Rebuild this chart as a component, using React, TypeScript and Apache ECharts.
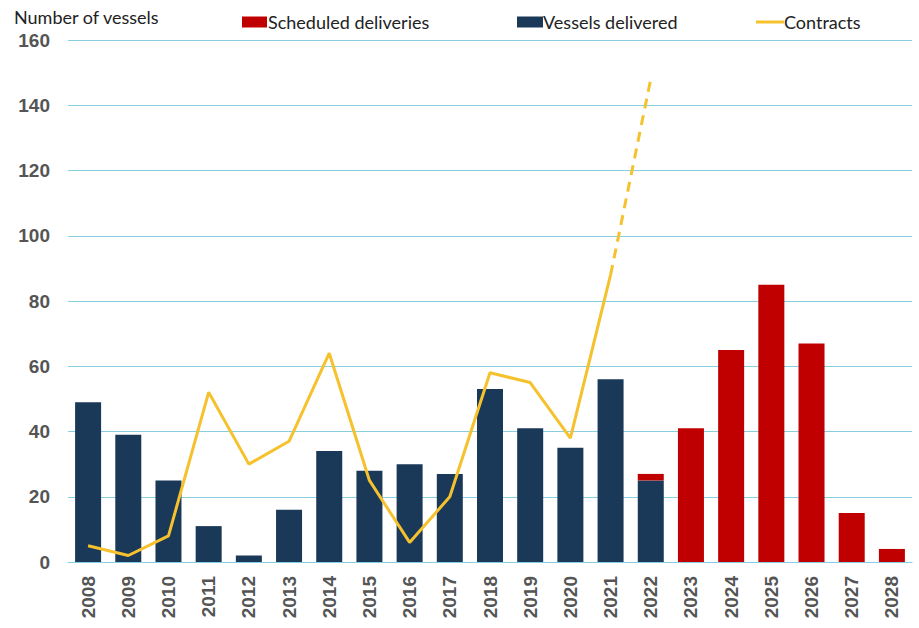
import React, { useEffect, useRef } from "react";
import * as echarts from "echarts";

const years = ["2008","2009","2010","2011","2012","2013","2014","2015","2016","2017","2018","2019","2020","2021","2022","2023","2024","2025","2026","2027","2028"];
const vesselsDelivered = [49, 39, 25, 11, 2, 16, 34, 28, 30, 27, 53, 41, 35, 56, 25, null, null, null, null, null, null];
const scheduledDeliveries = [null, null, null, null, null, null, null, null, null, null, null, null, null, null, 2, 41, 65, 85, 67, 15, 4];
const contracts = [5, 2, 8, 52, 30, 37, 64, 25, 6, 20, 58, 55, 38, 88, null, null, null, null, null, null, null];
const contractsProjected = [null, null, null, null, null, null, null, null, null, null, null, null, null, 88, 148, null, null, null, null, null, null];
const yTicks = [0, 20, 40, 60, 80, 100, 120, 140, 160];

const FONT = "Lato, 'Noto Sans', sans-serif";
const NAVY = "#1a3858";
const RED = "#c00000";
const GOLD = "#f5c12c";
const GRID = "#86cee0";
const TXT = 18;

export default function App() {
  const ref = useRef<HTMLDivElement>(null);
  useEffect(() => {
    if (!ref.current) return;
    const chart = echarts.init(ref.current, null, { renderer: "svg" });
    chart.setOption({
      animation: false,
      backgroundColor: "#ffffff",
      graphic: [
        {
          type: "text",
          left: 14,
          top: 8,
          style: { text: "Number of vessels", fontSize: TXT, fontFamily: FONT, fill: "#222" },
        },
      ],
      legend: [
        {
          data: [{ name: "Scheduled deliveries", icon: "rect" }],
          left: 237, top: 8, itemWidth: 25, itemHeight: 11,
          textStyle: { fontSize: TXT, fontFamily: FONT, color: "#222", padding: [0, 0, 0, -4] },
        },
        {
          data: [{ name: "Vessels delivered", icon: "rect" }],
          left: 512, top: 8, itemWidth: 26, itemHeight: 11,
          textStyle: { fontSize: TXT, fontFamily: FONT, color: "#222", padding: [0, 0, 0, -5] },
        },
        {
          data: [{ name: "Contracts", icon: "rect" }],
          left: 751, top: 8, itemWidth: 28, itemHeight: 3,
          textStyle: { fontSize: TXT, fontFamily: FONT, color: "#222", padding: [0, 0, 0, -5] },
        },
      ],
      grid: { left: 68, right: 7, top: 40, bottom: 66, containLabel: false },
      xAxis: {
        type: "category",
        data: years,
        axisTick: { show: false },
        axisLine: { show: true, lineStyle: { color: GRID, width: 1 } },
        axisLabel: {
          rotate: 90,
          margin: 14,
          fontSize: 19,
          fontWeight: "bold",
          color: "#555",
          fontFamily: "Arial, 'Liberation Sans', sans-serif",
        },
      },
      yAxis: {
        type: "value",
        min: yTicks[0],
        max: yTicks[yTicks.length - 1],
        interval: 20,
        axisLine: { show: false },
        axisTick: { show: false },
        splitLine: { lineStyle: { color: GRID, width: 1 } },
        axisLabel: {
          margin: 18,
          fontSize: 19,
          fontWeight: "bold",
          color: "#555",
          fontFamily: "Arial, 'Liberation Sans', sans-serif",
        },
      },
      series: [
        {
          name: "Vessels delivered",
          type: "bar",
          stack: "total",
          data: vesselsDelivered,
          barWidth: 26,
          itemStyle: { color: NAVY },
        },
        {
          name: "Scheduled deliveries",
          type: "bar",
          stack: "total",
          data: scheduledDeliveries,
          barWidth: 26,
          itemStyle: { color: RED },
        },
        {
          name: "Contracts",
          type: "line",
          data: contracts,
          showSymbol: false,
          symbol: "none",
          z: 5,
          lineStyle: { color: GOLD, width: 3 },
          itemStyle: { color: GOLD },
        },
        {
          name: "Contracts projected",
          type: "line",
          data: contractsProjected,
          showSymbol: false,
          symbol: "none",
          z: 5,
          lineStyle: { color: GOLD, width: 3, type: [10, 7] },
          itemStyle: { color: GOLD },
        },
      ],
    });
    return () => chart.dispose();
  }, []);
  return <div ref={ref} style={{ width: 919, height: 628, position: "absolute", left: 0, top: 0 }} />;
}
